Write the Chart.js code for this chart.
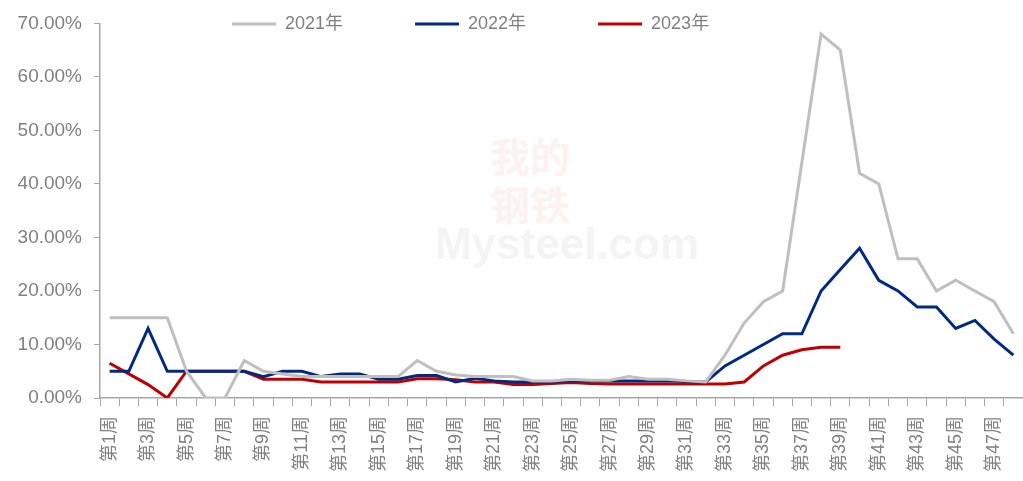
<!DOCTYPE html>
<html>
<head>
<meta charset="utf-8">
<script src="https://cdn.jsdelivr.net/npm/chart.js@4/dist/chart.umd.min.js"></script>
<style>
  html, body { margin: 0; padding: 0; background: #fff; }
  #wrap { width: 1023px; height: 481px; }
</style>
</head>
<body>
<div id="wrap"><canvas id="grafico"></canvas></div>
<script>
// semanas y valores (%)
const semanas = [];
for (let i = 1; i <= 48; i++) semanas.push('第' + i + '周');

const serie2021 = [15, 15, 15, 15, 5, 0, 0, 7, 5, 4.5, 4, 4, 4, 4, 4, 4, 7, 5, 4.3, 4, 4, 4, 3.2, 3.2,
                   3.5, 3.3, 3.3, 4, 3.5, 3.5, 3.2, 3, 8, 14, 18, 20, 44, 68, 65, 42, 40, 26, 26, 20, 22, 20, 18, 12];
const serie2022 = [5, 5, 13, 5, 5, 5, 5, 5, 4, 5, 5, 4, 4.5, 4.5, 3.5, 3.5, 4.2, 4.2, 3, 3.7, 3.2, 3, 3, 3,
                   3.2, 3.2, 3.2, 3.2, 3.2, 3.2, 3.1, 3, 6, 8, 10, 12, 12, 20, 24, 28, 22, 20, 17, 17, 13, 14.5, 11, 8];
const serie2023 = [6.5, 4.5, 2.5, 0, 5, 5, 5, 5, 3.5, 3.5, 3.5, 3, 3, 3, 3, 3, 3.6, 3.6, 3.4, 3, 3, 2.5, 2.5, 2.7,
                   2.9, 2.7, 2.6, 2.6, 2.6, 2.6, 2.6, 2.6, 2.6, 3, 6, 8, 9, 9.5, 9.5,
                   null, null, null, null, null, null, null, null, null];
const ticksY = [0, 10, 20, 30, 40, 50, 60, 70];

const fuente = '"Liberation Sans", "Noto Sans CJK SC", sans-serif';
const gris = '#808080';

// marca de agua tenue
const marcaAgua = {
  id: 'marcaAgua',
  beforeDatasetsDraw(chart) {
    const ctx = chart.ctx;
    ctx.save();
    ctx.textAlign = 'center';
    ctx.textBaseline = 'middle';
    ctx.fillStyle = 'rgba(220, 60, 60, 0.07)';
    ctx.font = 'bold 40px "Noto Sans CJK SC"';
    ctx.fillText('我的', 530, 157);
    ctx.fillText('钢铁', 530, 205);
    ctx.fillStyle = 'rgba(150, 150, 150, 0.10)';
    ctx.font = 'bold 44px "Liberation Sans"';
    ctx.fillText('Mysteel.com', 567, 247);
    ctx.restore();
  }
};

// la leyenda va dentro del area, arriba
const moverLeyenda = {
  id: 'moverLeyenda',
  afterLayout(chart) {
    const lg = chart.legend;
    lg.left = 160;
    lg.right = 1000;
    lg.top = -57;
    lg.bottom = 45;
  }
};

const ctx = document.getElementById('grafico').getContext('2d');
const grafico = new Chart(ctx, {
  type: 'line',
  data: {
    labels: semanas,
    datasets: [
      { label: '2021年', data: serie2021, borderColor: '#BFBFBF', backgroundColor: '#BFBFBF', borderWidth: 3 },
      { label: '2022年', data: serie2022, borderColor: '#002A84', backgroundColor: '#002A84', borderWidth: 3 },
      { label: '2023年', data: serie2023, borderColor: '#C00000', backgroundColor: '#C00000', borderWidth: 3 }
    ]
  },
  options: {
    responsive: true,
    maintainAspectRatio: false,
    animation: false,
    layout: { padding: 0 },
    elements: {
      point: { radius: 0, hoverRadius: 0 },
      line: { tension: 0, borderCapStyle: 'butt', borderJoinStyle: 'miter' }
    },
    plugins: {
      tooltip: { enabled: false },
      legend: {
        position: 'top',
        align: 'start',
        maxHeight: 20,
        labels: {
          usePointStyle: true,
          pointStyle: 'line',
          pointStyleWidth: 44,
          padding: 72,
          color: gris,
          font: { family: fuente, size: 18 }
        }
      }
    },
    scales: {
      x: {
        offset: true,
        grid: { offset: true, drawOnChartArea: false, tickLength: 8, color: '#A6A6A6', lineWidth: 1 },
        border: { color: '#A6A6A6', width: 1.5 },
        ticks: {
          autoSkip: false,
          maxRotation: 90,
          minRotation: 90,
          padding: 10,
          color: gris,
          font: { family: fuente, size: 18 },
          callback: function (v, i) { return i % 2 === 0 ? semanas[i] : ''; }
        },
        afterFit(s) { s.height = 83; s.paddingLeft = 0; s.paddingRight = 0; }
      },
      y: {
        min: 0,
        max: 70,
        grid: { drawOnChartArea: false, tickLength: 6, color: '#A6A6A6' },
        border: { color: '#A6A6A6', width: 1.5 },
        afterBuildTicks(s) { s.ticks = ticksY.map(v => ({ value: v })); },
        ticks: {
          padding: 12,
          color: gris,
          font: { family: fuente, size: 19 },
          callback: v => v.toFixed(2) + '%'
        },
        afterFit(s) { s.width = 100; }
      }
    }
  },
  plugins: [marcaAgua, moverLeyenda]
});
</script>
</body>
</html>
